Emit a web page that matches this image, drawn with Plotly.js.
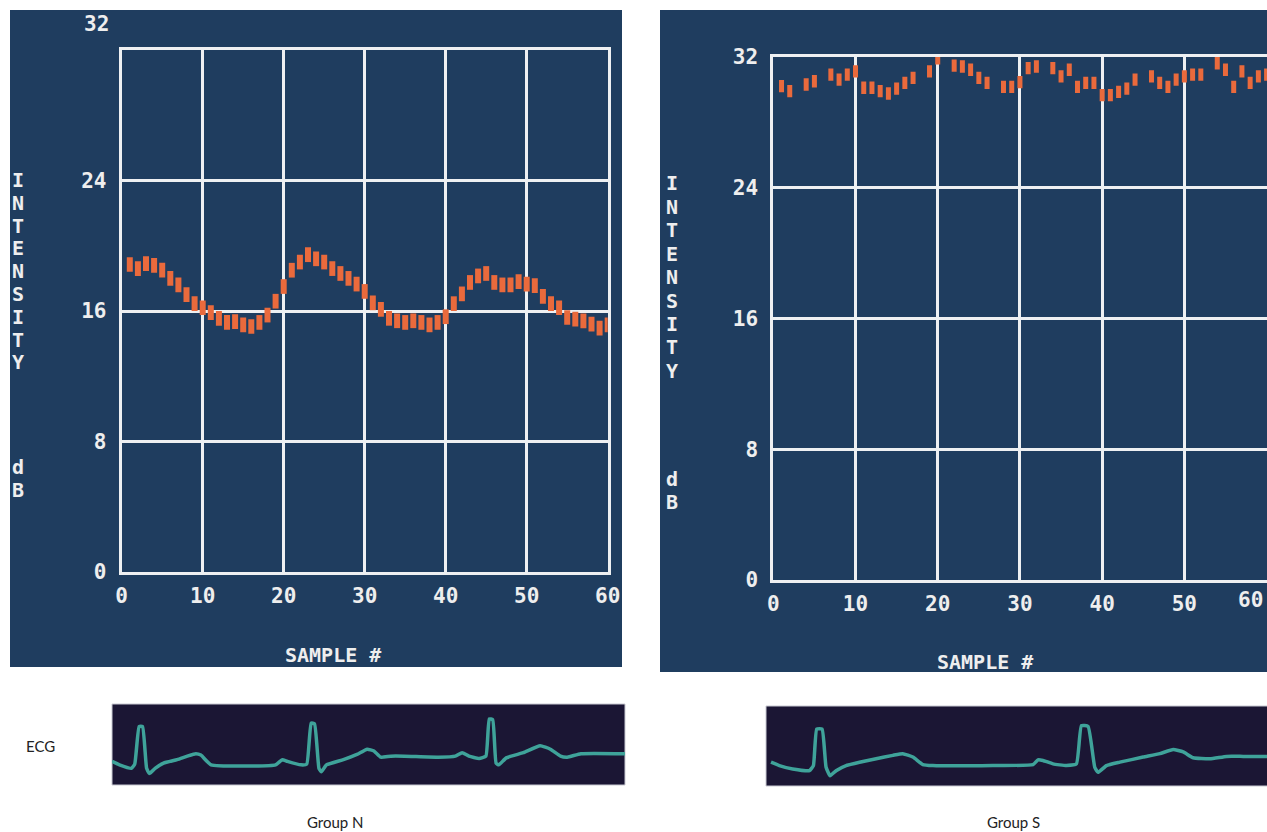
<!DOCTYPE html>
<html>
<head>
<meta charset="utf-8">
<script src="https://cdn.plot.ly/plotly-3.0.1.min.js"></script>
<style>html,body{margin:0;padding:0;background:#fff;}#chart{width:1267px;height:832px;}</style>
</head>
<body>
<div id="chart"></div>
<script>
// ---------- data ----------
const sampleNumbers = Array.from({length: 60}, (_, i) => i + 1);

// Group N: intensity (dB) per sample
const intensityN = [
  18.85, 18.6, 18.9, 18.8, 18.5, 18.0, 17.6, 17.0, 16.45, 16.2,
  15.9, 15.55, 15.3, 15.35, 15.15, 15.05, 15.3, 15.75, 16.6, 17.5,
  18.5, 19.0, 19.45, 19.2, 19.0, 18.6, 18.3, 18.0, 17.65, 17.2,
  16.5, 16.1, 15.55, 15.4, 15.3, 15.4, 15.3, 15.15, 15.3, 15.65,
  16.45, 17.05, 17.75, 18.15, 18.3, 17.75, 17.6, 17.6, 17.8, 17.65,
  17.55, 16.9, 16.45, 16.2, 15.6, 15.5, 15.4, 15.2, 14.95, 15.15
];

// Group S: intensity (dB) per sample (null = no mark displayed)
const intensityS = [
  30.2, 29.9, null, 30.3, 30.5, null, 30.9, 30.6, 30.9, 31.1,
  30.1, 30.1, 29.9, 29.75, 30.05, 30.4, 30.7, null, 31.1, 31.9,
  null, 31.45, 31.4, 31.2, 30.7, 30.4, null, 30.15, 30.15, 30.45,
  31.3, 31.4, null, 31.3, 30.8, 31.2, 30.15, 30.4, 30.4, 29.65,
  29.65, 29.85, 30.05, 30.6, null, 30.8, 30.4, 30.15, 30.6, 30.8,
  30.9, 30.9, null, 31.6, 31.2, 30.15, 31.1, 30.4, 30.8, 30.9
];

const xTickVals = [0, 10, 20, 30, 40, 50, 60];
const yTickVals = [0, 8, 16, 24, 32];

// ECG traces (time units, amplitude units)
const ecgN_t = [0, 2.2, 5.7, 6.7, 8.0, 9.0, 10.2, 11.0, 12.7, 15.2, 19.2, 22.2, 24.7, 26.2, 29.2,
  48.2, 50.2, 51.7, 55.7, 57.4, 58.7, 59.7, 61.0, 61.7, 63.2, 68.2, 72.2, 75.2, 77.2, 79.2,
  82.2, 86.2, 96.2, 101.2, 103.2, 105.2, 108.2, 110.2, 111.2, 112.2, 113.2, 114.0, 116.2,
  121.2, 126.2, 129.2, 132.2, 134.2, 138.2, 151.2];
const ecgN_v = [0.20, 0.10, 0.0, 0.12, 1.20, 1.20, 0.0, -0.15, 0.0, 0.15, 0.25, 0.35, 0.42, 0.38, 0.10,
  0.10, 0.25, 0.20, 0.10, 0.12, 1.30, 1.28, 0.0, -0.10, 0.10, 0.25, 0.40, 0.55, 0.50, 0.32,
  0.35, 0.35, 0.32, 0.35, 0.45, 0.35, 0.28, 0.35, 1.42, 1.40, 0.15, 0.10, 0.30,
  0.45, 0.65, 0.55, 0.35, 0.32, 0.42, 0.42];

const ecgS_t = [1.5, 4.0, 8.0, 13.0, 14.2, 15.2, 16.8, 18.0, 19.2, 21.0, 24.0, 28.0, 33.0, 38.0, 41.0,
  44.0, 47.0, 50.0, 68.0, 80.0, 81.5, 83.0, 86.0, 90.0, 93.0, 94.5, 96.5, 98.5, 99.5, 102.0,
  106.0, 113.0, 118.0, 122.0, 125.0, 128.0, 133.0, 138.0, 143.0, 150.1];
const ecgS_v = [0.15, 0.05, -0.05, -0.10, 0.05, 1.12, 1.12, 0.0, -0.25, -0.10, 0.05, 0.15, 0.25, 0.35, 0.40,
  0.30, 0.08, 0.05, 0.05, 0.08, 0.22, 0.20, 0.10, 0.05, 0.10, 1.22, 1.20, 0.0, -0.15, 0.05,
  0.15, 0.30, 0.40, 0.52, 0.45, 0.28, 0.25, 0.32, 0.32, 0.32];

const axisTitleLetters = ['I','N','T','E','N','S','I','T','Y'];
const unitLetters = ['d','B'];

// ---------- layout helpers ----------
const W = 1267, H = 832;
const px = x => x / W;
const py = y => 1 - y / H;

const PANEL = '#1f3d5f';
const STRIP = '#1b1634';
const GRID = '#eef0f2';
const MARK = '#ea6a3c';
const TXT = '#eeeeee';
const ECGC = '#3fa39a';
const MONO = 'DejaVu Sans Mono, monospace';
const mono = {family: MONO, size: 21, color: TXT, weight: 'bold'};

const traces = [
  {x: sampleNumbers, y: intensityN, type: 'scatter', mode: 'markers', xaxis: 'x', yaxis: 'y',
   marker: {symbol: 'line-ns', size: 10.5, color: MARK, line: {color: MARK, width: 6}}, hoverinfo: 'x+y'},
  {x: sampleNumbers, y: intensityS, type: 'scatter', mode: 'markers', xaxis: 'x2', yaxis: 'y2',
   marker: {symbol: 'line-ns', size: 8.8, color: MARK, line: {color: MARK, width: 5}}, hoverinfo: 'x+y'},
  {x: ecgN_t, y: ecgN_v, type: 'scatter', mode: 'lines', xaxis: 'x3', yaxis: 'y3',
   line: {color: ECGC, width: 3.5, shape: 'spline', smoothing: 0.4}, hoverinfo: 'skip'},
  {x: ecgS_t, y: ecgS_v, type: 'scatter', mode: 'lines', xaxis: 'x4', yaxis: 'y4',
   line: {color: ECGC, width: 3.5, shape: 'spline', smoothing: 0.4}, hoverinfo: 'skip'}
];

function mainX(domain, range, anchor, tickvals) {
  return {domain, range, anchor, tickvals, ticktext: tickvals.map(String),
    showgrid: true, gridcolor: GRID, gridwidth: 3, zeroline: false,
    showline: true, linecolor: GRID, linewidth: 3, mirror: true,
    ticks: '', ticklabelstandoff: 3, tickfont: mono, fixedrange: true};
}
function mainY(domain, tickvals, anchor, mirror) {
  return {domain, range: [0, 32], anchor, tickvals, ticktext: tickvals.map(String),
    showgrid: true, gridcolor: GRID, gridwidth: 3, zeroline: false,
    showline: true, linecolor: GRID, linewidth: 3, mirror,
    ticks: '', ticklabelstandoff: 8, tickfont: mono, fixedrange: true};
}
function hidden(domain, range, anchor) {
  return {domain, range, anchor, visible: false, fixedrange: true};
}

const annotations = [];
function addText(x, y, text, font, xanchor) {
  annotations.push({xref: 'paper', yref: 'paper', x: px(x), y: py(y), text, showarrow: false,
    xanchor: xanchor || 'center', yanchor: 'middle', font});
}
const titleFont = {family: MONO, size: 20, color: TXT, weight: 'bold'};
// left axis title letters
axisTitleLetters.forEach((c, k) => addText(18, 180 + k * 22.8, c, titleFont));
unitLetters.forEach((c, k) => addText(18, 467 + k * 23, c, titleFont));
// right axis title letters
axisTitleLetters.forEach((c, k) => addText(672, 183 + k * 23.5, c, titleFont));
unitLetters.forEach((c, k) => addText(672, 479 + k * 23, c, titleFont));
// top "32" label of left chart (sits above the frame)
addText(111, 24, '32', mono, 'right');
// last x label of right chart, kept inside the picture edge
addText(1265, 600, '60', mono, 'right');
// x axis titles
addText(333, 655, 'SAMPLE #', titleFont);
addText(985, 662, 'SAMPLE #', titleFont);
// captions
const cap = {family: 'Lato, Open Sans, sans-serif', size: 15, color: '#222'};
addText(40, 746, 'ECG', cap);
addText(335, 822, 'Group N', cap);
addText(1013, 822, 'Group S', cap);

const shapes = [
  {type: 'rect', xref: 'paper', yref: 'paper', x0: px(10), x1: px(622), y0: py(667), y1: py(10),
   fillcolor: PANEL, line: {width: 0}, layer: 'below'},
  {type: 'rect', xref: 'paper', yref: 'paper', x0: px(660), x1: 1, y0: py(672), y1: py(10),
   fillcolor: PANEL, line: {width: 0}, layer: 'below'},
  {type: 'rect', xref: 'paper', yref: 'paper', x0: px(112), x1: px(625), y0: py(785), y1: py(704),
   fillcolor: STRIP, line: {width: 1, color: '#c9c9d2'}, layer: 'below'},
  {type: 'rect', xref: 'paper', yref: 'paper', x0: px(766), x1: 1.01, y0: py(786), y1: py(706),
   fillcolor: STRIP, line: {width: 1, color: '#c9c9d2'}, layer: 'below'}
];

const layout = {
  width: W, height: H, margin: {l: 0, r: 0, t: 0, b: 0},
  paper_bgcolor: '#ffffff', plot_bgcolor: 'rgba(0,0,0,0)', showlegend: false,
  xaxis: mainX([px(121.7), px(607.7)], [0, 60], 'y', xTickVals),
  yaxis: mainY([py(572), py(50)], [0, 8, 16, 24], 'x', true),
  xaxis2: mainX([px(773.3), 1], [0, 60.05], 'y2', [0, 10, 20, 30, 40, 50]),
  yaxis2: mainY([py(580), py(56.7)], yTickVals, 'x2', false),
  xaxis3: hidden([px(112), px(625)], [0, 151.2], 'y3'),
  yaxis3: hidden([py(785), py(704)], [-0.48, 1.85], 'x3'),
  xaxis4: hidden([px(766), 1], [0, 150.1], 'y4'),
  yaxis4: hidden([py(786), py(706)], [-0.55, 1.8], 'x4'),
  shapes, annotations
};

Plotly.newPlot('chart', traces, layout, {displayModeBar: false, staticPlot: true});
</script>
</body>
</html>
